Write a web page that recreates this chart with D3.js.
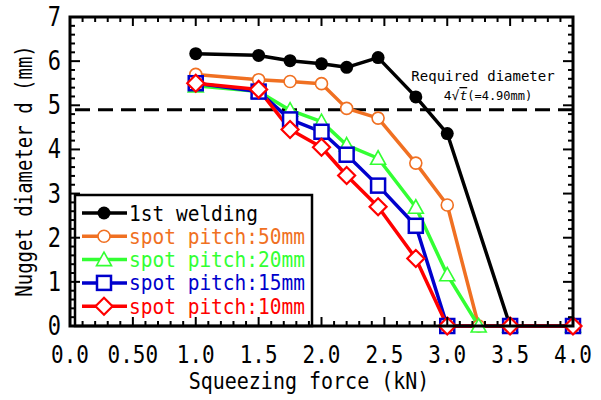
<!DOCTYPE html>
<html><head><meta charset="utf-8">
<script src="https://cdn.jsdelivr.net/npm/d3@7"></script>
<style>body{margin:0;background:#fff}svg{display:block}text{font-family:"DejaVu Sans Mono",monospace}</style>
</head><body><svg id="c" width="601" height="400"></svg>
<script>
const seriesNames = ["1st welding","spot pitch:50mm","spot pitch:20mm","spot pitch:15mm","spot pitch:10mm"];
const seriesColors = ["#000000","#F07022","#33FF33","#0000CC","#FF0000"];
const seriesMarkers = ["dot","circle","triangle","square","diamond"];
const xFirst = [1.0,1.5,1.75,2.0,2.2,2.45,2.75,3.0,3.5,4.0];
const xPitch50 = [1.0,1.5,1.75,2.0,2.2,2.45,2.75,3.0,3.25,3.5,4.0];
const xPitch20 = [1.0,1.5,1.75,2.0,2.2,2.45,2.75,3.0,3.25,3.5,4.0];
const xPitch15 = [1.0,1.5,1.75,2.0,2.2,2.45,2.75,3.0,3.5,4.0];
const xPitch10 = [1.0,1.5,1.75,2.0,2.2,2.45,2.75,3.0,3.5,4.0];
const yFirst = [6.17,6.13,6.01,5.94,5.86,6.08,5.19,4.36,0,0];
const yPitch50 = [5.70,5.58,5.54,5.49,4.93,4.71,3.69,2.74,0,0,0];
const yPitch20 = [5.44,5.31,4.89,4.63,4.10,3.80,2.69,1.16,0,0,0];
const yPitch15 = [5.50,5.31,4.68,4.40,3.88,3.18,2.27,0,0,0];
const yPitch10 = [5.50,5.36,4.45,4.05,3.41,2.70,1.53,0,0,0];
const xTickLabels = ["0.0","0.50","1.0","1.5","2.0","2.5","3.0","3.5","4.0"];
const yTickLabels = ["0","1","2","3","4","5","6","7"];
const requiredDiameter = 4.90;

const xsAll=[xFirst,xPitch50,xPitch20,xPitch15,xPitch10];
const ysAll=[yFirst,yPitch50,yPitch20,yPitch15,yPitch10];
const svg=d3.select("#c");
const L=70,R=573,T=17,B=326;
const x=d3.scaleLinear().domain([0,4]).range([L,R]);
const y=d3.scaleLinear().domain([0,7]).range([B,T]);

function marker(g,type,color,cx,cy){
  if(type==="dot") g.append("circle").attr("cx",cx).attr("cy",cy).attr("r",6.5).attr("fill",color);
  else if(type==="circle") g.append("circle").attr("cx",cx).attr("cy",cy).attr("r",6).attr("fill","#fff").attr("stroke",color).attr("stroke-width",1.6);
  else if(type==="triangle") g.append("path").attr("d",`M${cx},${cy-7.5}L${cx+7.5},${cy+6}L${cx-7.5},${cy+6}Z`).attr("fill","#fff").attr("stroke",color).attr("stroke-width",1.6);
  else if(type==="square") g.append("rect").attr("x",cx-7).attr("y",cy-7).attr("width",14).attr("height",14).attr("fill","#fff").attr("stroke",color).attr("stroke-width",2.5);
  else if(type==="diamond") g.append("path").attr("d",`M${cx},${cy-8.5}L${cx+8.5},${cy}L${cx},${cy+8.5}L${cx-8.5},${cy}Z`).attr("fill","#fff").attr("stroke",color).attr("stroke-width",2.2);
}
function stretched(px,py,size,anchor,str,rot){
  return svg.append("text").attr("transform",`translate(${px},${py})${rot?" rotate(-90)":""} scale(1,1.18)`)
    .attr("text-anchor",anchor).attr("font-size",size).text(str);
}

// dashed required line
svg.append("line").attr("x1",L).attr("x2",R).attr("y1",y(requiredDiameter)).attr("y2",y(requiredDiameter))
  .attr("stroke","#000").attr("stroke-width",3).attr("stroke-dasharray","15,8").attr("stroke-dashoffset",-5);
svg.append("text").attr("x",483).attr("y",81).attr("text-anchor","middle").attr("font-size",14).text("Required diameter");
const t2=svg.append("text").attr("x",488).attr("y",100).attr("text-anchor","middle").attr("font-size",13);
t2.append("tspan").text("4√");
t2.append("tspan").attr("font-style","italic").attr("text-decoration","overline").text("t");
t2.append("tspan").attr("font-size",12).text("(=4.90mm)");

// series
const line=d3.line();
seriesNames.forEach((n,i)=>{
  const pts=xsAll[i].map((v,j)=>[x(v),y(ysAll[i][j])]);
  svg.append("path").attr("d",line(pts)).attr("fill","none").attr("stroke",seriesColors[i]).attr("stroke-width",3.5).attr("stroke-linejoin","round");
});
seriesNames.forEach((n,i)=>{
  const g=svg.append("g");
  xsAll[i].forEach((v,j)=>marker(g,seriesMarkers[i],seriesColors[i],x(v),y(ysAll[i][j])));
});

// legend
const lg=svg.append("g");
lg.append("rect").attr("x",75).attr("y",195).attr("width",237).attr("height",131).attr("fill","#fff").attr("stroke","#000").attr("stroke-width",2.5);
seriesNames.forEach((n,i)=>{
  const ry=213+i*23.3;
  lg.append("line").attr("x1",82).attr("x2",127).attr("y1",ry).attr("y2",ry).attr("stroke",seriesColors[i]).attr("stroke-width",3.5);
  marker(lg,seriesMarkers[i],seriesColors[i],104,ry);
  lg.append("text").attr("transform",`translate(129,${ry+7.5}) scale(1,1.12)`).attr("font-size",19.5).attr("fill",seriesColors[i]).text(n);
});

// axes / frame
const ax=svg.append("g").attr("stroke","#000").attr("stroke-width",2);
d3.range(0,7.001,0.2).forEach(v=>{
  const maj=Math.abs(v-Math.round(v))<1e-6, len=maj?10:5;
  ax.append("line").attr("x1",L).attr("x2",L+len).attr("y1",y(v)).attr("y2",y(v));
  ax.append("line").attr("x1",R).attr("x2",R-len).attr("y1",y(v)).attr("y2",y(v));
});
d3.range(0,4.001,0.1).forEach(v=>{
  const maj=Math.abs(v*2-Math.round(v*2))<1e-6, len=maj?9:5;
  ax.append("line").attr("y1",B).attr("y2",B-len).attr("x1",x(v)).attr("x2",x(v));
  ax.append("line").attr("y1",T).attr("y2",T+len).attr("x1",x(v)).attr("x2",x(v));
});
svg.append("rect").attr("x",L).attr("y",T).attr("width",R-L).attr("height",B-T).attr("fill","none").attr("stroke","#000").attr("stroke-width",3);

// tick labels
xTickLabels.forEach((s,i)=>stretched(x(i*0.5),363,21,"middle",s));
yTickLabels.forEach((s,i)=>stretched(61,y(i)+9,22,"end",s));

stretched(309,389,20,"middle","Squeezing force (kN)");
stretched(32,171,19,"middle","Nugget diameter d (mm)",true);
</script></body></html>
